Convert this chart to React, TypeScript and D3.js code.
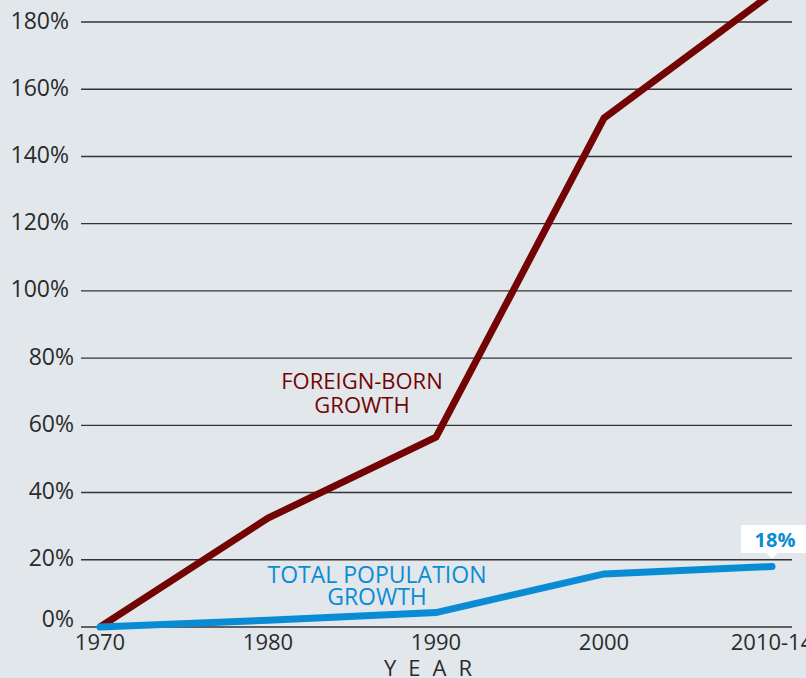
import React from 'react';
import * as d3 from 'd3';

const years = ['1970', '1980', '1990', '2000', '2010-14'];
const foreignBorn = [0, 32.4, 56.5, 151.4, 188.5];
const totalPop = [0, 2, 4.3, 15.8, 18];
const yTicks = [0, 20, 40, 60, 80, 100, 120, 140, 160, 180];

const W = 806;
const H = 678;
const FONT = '"Open Sans", "Noto Sans", sans-serif';
const RED = '#730404';
const BLUE = '#0a8cd4';
const INK = '#2b2b2b';

const App: React.FC = () => {
  const x = d3.scalePoint<string>().domain(years).range([100, 772]);
  const y = d3.scaleLinear().domain([0, 180]).range([627, 22]);

  const line = d3.line<number>()
    .x((_, i) => x(years[i]) ?? 0)
    .y(d => y(d));

  const lastX = x(years[years.length - 1]) ?? 0;
  const lastY = y(totalPop[totalPop.length - 1]);

  return (
    <svg width={W} height={H} style={{ display: 'block', position: 'absolute', left: 0, top: 0 }}>
      <rect width={W} height={H} fill="#e2e7ec" />
      {yTicks.map(t => (
        <g key={t}>
          <line x1={81} x2={792} y1={y(t)} y2={y(t)} stroke="#333" strokeWidth={1.4} />
          <text
            x={t >= 100 ? 69 : 74}
            y={y(t) + (t === 0 ? 0 : 6.5)}
            textAnchor="end"
            fontFamily={FONT}
            fontSize={23}
            fill={INK}
          >
            {t}%
          </text>
        </g>
      ))}
      {years.map(yr => (
        <text key={yr} x={x(yr)} y={650} textAnchor="middle" fontFamily={FONT} fontSize={22} fill={INK}>
          {yr}
        </text>
      ))}
      <text x={434} y={676} textAnchor="middle" fontFamily={FONT} fontSize={22} fill={INK} letterSpacing={12}>
        YEAR
      </text>

      <path d={line(foreignBorn) ?? ''} fill="none" stroke={RED} strokeWidth={7} />
      <path d={line(totalPop) ?? ''} fill="none" stroke={BLUE} strokeWidth={7} strokeLinecap="round" />

      <text x={362} y={389} textAnchor="middle" fontFamily={FONT} fontSize={22} fill={RED}>FOREIGN-BORN</text>
      <text x={362} y={413} textAnchor="middle" fontFamily={FONT} fontSize={22} fill={RED}>GROWTH</text>
      <text x={377} y={583} textAnchor="middle" fontFamily={FONT} fontSize={23} fill={BLUE}>TOTAL POPULATION</text>
      <text x={377} y={605} textAnchor="middle" fontFamily={FONT} fontSize={23} fill={BLUE}>GROWTH</text>

      <path
        d={`M741,525 H806 V553 H${lastX + 6} L${lastX},${lastY - 8} L${lastX - 6},553 H741 Z`}
        fill="#fff"
      />
      <text x={775} y={547} textAnchor="middle" fontFamily={FONT} fontSize={20} fontWeight="bold" fill={BLUE}>
        18%
      </text>
    </svg>
  );
};

export default App;
